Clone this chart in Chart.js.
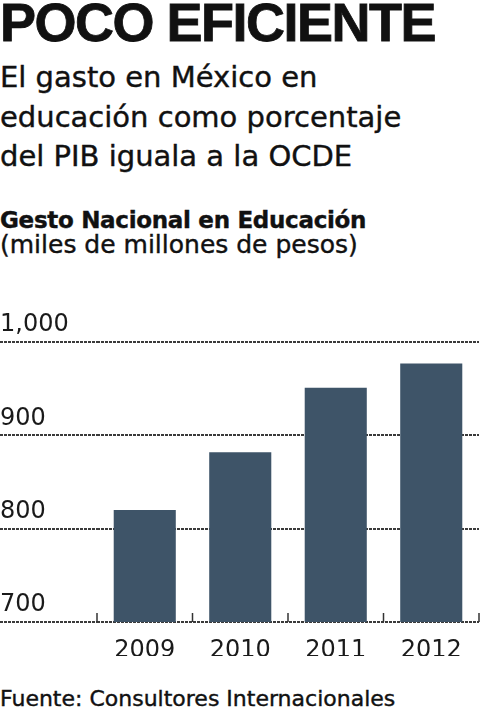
<!DOCTYPE html>
<html>
<head>
<meta charset="utf-8">
<script src="https://cdn.jsdelivr.net/npm/chart.js@4/dist/chart.umd.min.js"></script>
<style>
  html, body { margin: 0; padding: 0; background: #fff; }
  body { width: 480px; height: 713px; position: relative; overflow: hidden; color: #111; }
  .t { position: absolute; left: 0; white-space: nowrap; -webkit-text-stroke: 0.4px #111; }
  #title { top: -5px; font: bold 54px/54px "Liberation Sans", Arial, sans-serif; letter-spacing: -1.5px; -webkit-text-stroke: 0.8px #111; }
  #sub { top: 58px; font: 29px/39.5px "DejaVu Sans", sans-serif; }
  #lab1 { top: 207px; font: bold 23px/26px "DejaVu Sans", sans-serif; letter-spacing: -0.3px; }
  #lab2 { top: 232px; font: 25px/26px "DejaVu Sans", sans-serif; }
  #foot { top: 687px; font: 22px/24px "DejaVu Sans", sans-serif; }
  #wrap { position: absolute; left: 0; top: 290px; width: 480px; height: 366px; }
</style>
</head>
<body>
<div class="t" id="title">POCO EFICIENTE</div>
<div class="t" id="sub">El gasto en México en<br>educación como porcentaje<br>del PIB iguala a la OCDE</div>
<div class="t" id="lab1">Gesto Nacional en Educación</div>
<div class="t" id="lab2">(miles de millones de pesos)</div>
<div id="wrap"><canvas id="c"></canvas></div>
<div class="t" id="foot">Fuente: Consultores Internacionales</div>
<script>
const years = ['2009', '2010', '2011', '2012'];
const gasto = [820, 882, 951, 977];
const yTicks = [700, 800, 900, 1000];

const gridColor = '#3a3a3a';

const catTicks = {
  id: 'catTicks',
  afterDatasetsDraw(chart) {
    const x = chart.scales.x;
    const area = chart.chartArea;
    const half = (x.getPixelForValue(1) - x.getPixelForValue(0)) / 2;
    const ctx = chart.ctx;
    ctx.save();
    ctx.strokeStyle = '#333';
    ctx.lineWidth = 1.5;
    for (let i = 0; i <= years.length; i++) {
      const px = x.getPixelForValue(i) - half;
      ctx.beginPath();
      ctx.moveTo(px, area.bottom - 9);
      ctx.lineTo(px, area.bottom);
      ctx.stroke();
    }
    ctx.restore();
  }
};

new Chart(document.getElementById('c'), {
  type: 'bar',
  data: {
    labels: years,
    datasets: [{
      data: gasto,
      backgroundColor: '#3e5468',
      borderWidth: 0,
      barPercentage: 0.65,
      categoryPercentage: 1
    }]
  },
  options: {
    responsive: true,
    maintainAspectRatio: false,
    animation: false,
    layout: { padding: { top: 52, right: 1, left: 0, bottom: 0 } },
    plugins: { legend: { display: false }, tooltip: { enabled: false } },
    scales: {
      x: {
        grid: { display: false },
        border: { display: false },
        ticks: { color: '#1a1a1a', font: { family: 'DejaVu Sans', size: 24 }, padding: 6 },
        afterFit(scale) { scale.height = 34; }
      },
      y: {
        min: 700,
        max: 1000,
        afterBuildTicks(scale) { scale.ticks = yTicks.map(v => ({ value: v })); },
        afterFit(scale) { scale.width = 97; },
        grid: {
          color: gridColor,
          lineWidth: 2,
          drawTicks: true,
          tickLength: 97,
          tickColor: gridColor,
          tickWidth: 2,
          tickBorderDash: [3, 1]
        },
        border: { display: false, dash: [3, 1] },
        ticks: {
          color: '#1a1a1a',
          font: { family: 'DejaVu Sans', size: 24 },
          crossAlign: 'far',
          labelOffset: -17,
          padding: 0,
          callback: (v) => v.toLocaleString('en-US')
        }
      }
    }
  },
  plugins: [catTicks]
});
</script>
</body>
</html>
